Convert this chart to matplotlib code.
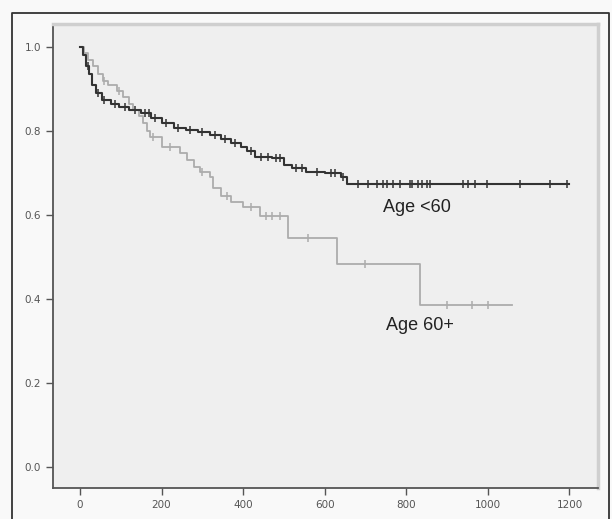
import numpy as np
import matplotlib.pyplot as plt
from matplotlib.lines import Line2D

# Kaplan-Meier step data
times_lt60 = [0, 8, 15, 22, 30, 40, 55, 75, 95, 120, 150, 175, 200, 230, 260, 290,
              320, 345, 370, 395, 410, 430, 470, 500, 520, 555, 600, 640, 655]
surv_lt60 = [1.0, 0.98, 0.955, 0.935, 0.91, 0.89, 0.875, 0.865, 0.857, 0.85, 0.843,
             0.83, 0.82, 0.808, 0.802, 0.797, 0.79, 0.782, 0.772, 0.763, 0.752, 0.738,
             0.735, 0.72, 0.712, 0.702, 0.699, 0.69, 0.674]
end_lt60 = 1200
censor_lt60 = [20, 45, 60, 85, 110, 135, 160, 170, 185, 210, 240, 270, 300, 330, 355,
               380, 420, 445, 460, 480, 490, 530, 545, 580, 615, 625, 645, 681, 706,
               728, 743, 752, 767, 784, 809, 814, 828, 838, 850, 858, 939, 951, 968,
               997, 1078, 1152, 1194]

times_60 = [0, 10, 20, 32, 45, 56, 70, 90, 105, 120, 130, 145, 154, 165, 172, 200,
            245, 262, 280, 294, 319, 326, 345, 370, 400, 441, 510, 630, 833]
surv_60 = [1.0, 0.985, 0.97, 0.955, 0.935, 0.92, 0.91, 0.895, 0.88, 0.865, 0.85, 0.835,
           0.819, 0.80, 0.786, 0.762, 0.748, 0.731, 0.715, 0.702, 0.69, 0.664, 0.645,
           0.632, 0.619, 0.597, 0.545, 0.483, 0.386]
end_60 = 1059
censor_60 = [60, 95, 180, 220, 300, 360, 420, 455, 470, 490, 560, 700, 900, 960, 1000]

labels = ["Age <60", "Age 60+"]
label_pos = [(826, 0.619), (833, 0.336)]

xticks = [0, 200, 400, 600, 800, 1000, 1200]
yticks = [0.0, 0.2, 0.4, 0.6, 0.8, 1.0]


def km_curve(ax, t, s, t_end, cens, color, lw):
    tt = list(t) + [t_end]
    ss = list(s) + [s[-1]]
    ax.step(tt, ss, where="post", color=color, lw=lw)
    idx = np.searchsorted(t, cens, side="right") - 1
    ax.plot(cens, np.array(s)[idx], ls="none", marker="|", ms=5.5, mew=1.1, color=color)


fig = plt.figure(figsize=(6.12, 5.19), dpi=100)
fig.patch.set_facecolor("#f9f9f9")
ax = fig.add_axes([53 / 612, 1 - 488 / 519, (598 - 53) / 612, (488 - 24) / 519])
ax.set_facecolor("#efefef")

km_curve(ax, times_60, surv_60, end_60, censor_60, "#acacac", 1.3)
km_curve(ax, times_lt60, surv_lt60, end_lt60, censor_lt60, "#333333", 1.5)

for txt, (lx, ly) in zip(labels, label_pos):
    ax.text(lx, ly, txt, ha="center", va="center", fontsize=13,
            family="Liberation Sans", color="#222222")

ax.set_xlim(-66, 1270)
ax.set_ylim(-0.05, 1.055)
ax.set_xticks(xticks)
ax.set_xticklabels([str(v) for v in xticks])
ax.set_yticks(yticks)
ax.set_yticklabels([f"{v:.1f}" for v in yticks])
ax.tick_params(direction="out", length=5, width=1, colors="#555555",
               labelsize=7.5, labelcolor="#555555")

for side in ["left", "bottom"]:
    ax.spines[side].set_color("#555555")
    ax.spines[side].set_linewidth(1.3)
for side in ["top", "right"]:
    ax.spines[side].set_color("#cfcfcf")
    ax.spines[side].set_linewidth(2.5)

# outer frame of the figure (cut off at bottom)
frame = Line2D([12 / 612, 12 / 612, 609 / 612, 609 / 612],
               [0, 1 - 13 / 519, 1 - 13 / 519, 0],
               transform=fig.transFigure, color="#333333", lw=1.3)
fig.add_artist(frame)

fig.savefig("out.png", dpi=100)
